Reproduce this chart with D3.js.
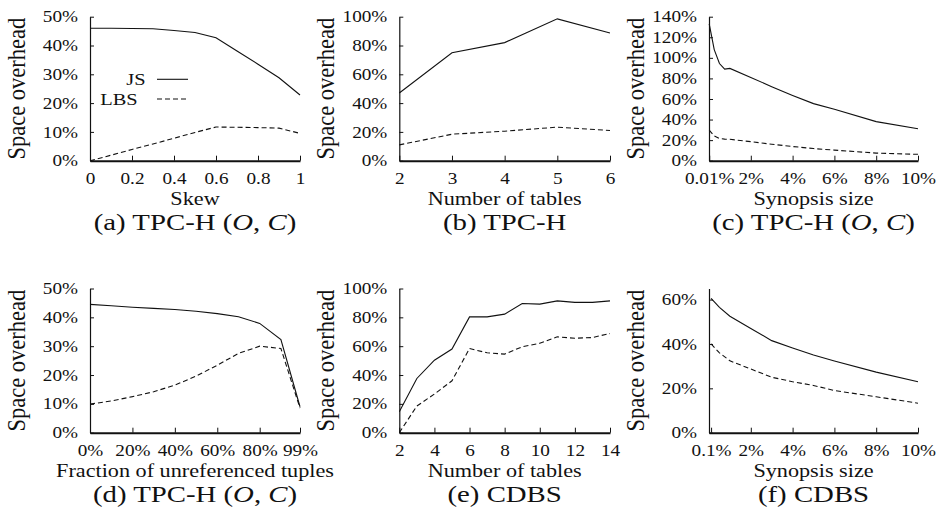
<!DOCTYPE html>
<html>
<head>
<meta charset="utf-8">
<script src="https://cdn.jsdelivr.net/npm/d3@7"></script>
<style>
  body { margin: 0; background: #fff; }
  svg text { font-family: "Liberation Serif", "Times New Roman", Times, "DejaVu Serif", serif; fill: #111; }
  .axis path, .axis line { stroke: #111; }
  .series { fill: none; stroke: #111; stroke-width: 1.1; }
  .dashed { stroke-dasharray: 5,3; }
</style>
</head>
<body>
<svg id="chart" width="940" height="510"></svg>
<script>

// ---- data ----------------------------------------------------------------------

// (a) TPC-H (O, C) : skew
const skew      = [0, 0.1, 0.2, 0.3, 0.4, 0.5, 0.6, 0.7, 0.8, 0.9, 1.0];
const skewJS    = [46, 46, 45.9, 45.8, 45.2, 44.5, 42.7, 38.1, 33.5, 28.8, 22.8];
const skewLBS   = [0, 1.9, 3.9, 5.8, 7.8, 9.8, 11.7, 11.6, 11.5, 11.3, 9.5];

// (b) TPC-H : number of tables
const tablesH    = [2, 3, 4, 5, 6];
const tablesHJS  = [47, 75, 82, 98.5, 88.7];
const tablesHLBS = [11, 18.4, 20.5, 23.3, 21];

// (c) TPC-H (O, C) : synopsis size (%)
const synH    = [0.01, 0.25, 0.5, 0.75, 1, 2, 3, 4, 5, 6, 8, 10];
const synHJS  = [133, 108, 94.5, 89, 89.7, 81, 72, 63.5, 55.5, 50, 38, 31];
const synHLBS = [29.8, 24, 21.5, 21, 20.8, 18.5, 16, 13.8, 11.8, 10.3, 7.4, 6.2];

// (d) TPC-H (O, C) : fraction of unreferenced tuples (%)
const unref    = [0, 10, 20, 30, 40, 50, 60, 70, 80, 90, 99];
const unrefJS  = [44.5, 44, 43.5, 43.1, 42.7, 42.1, 41.3, 40.2, 37.9, 32.3, 9];
const unrefLBS = [9.9, 11, 12.5, 14.2, 16.5, 19.6, 23.4, 27.5, 30, 29.2, 8.5];

// (e) CDBS : number of tables
const tablesC    = [2, 3, 4, 5, 6, 7, 8, 9, 10, 11, 12, 13, 14];
const tablesCJS  = [14.5, 37.6, 50.3, 58, 80.3, 80.3, 82.2, 89.6, 89.2, 91.4, 90.4, 90.4, 91.4];
const tablesCLBS = [0, 18.5, 26.8, 36, 58.4, 55.4, 54.5, 59.6, 62, 66.5, 65.5, 66, 68.8];

// (f) CDBS : synopsis size (%)
const synC    = [0.1, 0.5, 1, 2, 3, 4, 5, 6, 8, 10];
const synCJS  = [60.5, 56.5, 52.5, 47, 41.5, 38.2, 35, 32.3, 27.3, 23];
const synCLBS = [40, 36, 32.4, 28.7, 25, 23, 21.3, 19, 16.2, 13.3];

// tick values
const skewTicks   = [0, 0.2, 0.4, 0.6, 0.8, 1];
const synHTicks   = [0.01, 2, 4, 6, 8, 10];
const synCTicks   = [0.1, 2, 4, 6, 8, 10];
const unrefTicks  = [0, 20, 40, 60, 80, 99];
const tablesCTicks = [2, 4, 6, 8, 10, 12, 14];

const seriesNames = ['JS', 'LBS'];

//-------------------------------------------------------------------------------

const SX = 1.2;   // the source figure is stretched sideways; text follows it
const svg = d3.select('#chart');
const pct = d => d + '%';

const cols = [ [90, 300], [399.3, 610], [709, 918] ];
const rows = [ [160.7, 16.7], [432.7, 288.5] ];

const panels = [
  { col: 0, row: 0, x: skew, js: skewJS, lbs: skewLBS, xdom: [0, 1], ydom: [0, 50], ystep: 10,
    xticks: skewTicks, xfmt: d => d, xlabel: 'Skew', cap: ['(a) TPC-H (', 'O', ', ', 'C', ')'], legend: true },
  { col: 1, row: 0, x: tablesH, js: tablesHJS, lbs: tablesHLBS, xdom: [2, 6], ydom: [0, 100], ystep: 20,
    xticks: tablesH, xfmt: d => d, xlabel: 'Number of tables', cap: ['(b) TPC-H'] },
  { col: 2, row: 0, x: synH, js: synHJS, lbs: synHLBS, xdom: [0, 10], ydom: [0, 140], ystep: 20,
    xticks: synHTicks, xfmt: pct, xlabel: 'Synopsis size', cap: ['(c) TPC-H (', 'O', ', ', 'C', ')'] },
  { col: 0, row: 1, x: unref, js: unrefJS, lbs: unrefLBS, xdom: [0, 99], ydom: [0, 50], ystep: 10,
    xticks: unrefTicks, xfmt: pct, xlabel: 'Fraction of unreferenced tuples', cap: ['(d) TPC-H (', 'O', ', ', 'C', ')'] },
  { col: 1, row: 1, x: tablesC, js: tablesCJS, lbs: tablesCLBS, xdom: [2, 14], ydom: [0, 100], ystep: 20,
    xticks: tablesCTicks, xfmt: d => d, xlabel: 'Number of tables', cap: ['(e) CDBS'] },
  { col: 2, row: 1, x: synC, js: synCJS, lbs: synCLBS, xdom: [0, 10], ydom: [0, 65], ystep: 20,
    xticks: synCTicks, xfmt: pct, xlabel: 'Synopsis size', cap: ['(f) CDBS'] },
];

//-------------------------------------------------------------------------------

function StretchedText(g, x, y, size) {
    return g.append('text')
        .attr('transform', `translate(${x},${y}) scale(${SX},1)`)
        .attr('text-anchor', 'middle')
        .style('font-size', size + 'px');
}

function DrawPanel(p) {
    const [x0, x1] = cols[p.col], [y0, y1] = rows[p.row];
    const g = svg.append('g');

    const x = d3.scaleLinear().domain(p.xdom).range([x0, x1]);
    const y = d3.scaleLinear().domain(p.ydom).range([y0, y1]);

    const yticks = d3.range(p.ydom[0], p.ydom[1] + 0.001, p.ystep);

    // left axis, ticks pointing inward
    const ga = g.append('g').attr('class', 'axis')
        .attr('transform', `translate(${x0},0)`)
        .call(d3.axisLeft(y).tickValues(yticks).tickFormat(pct).tickSize(-4).tickSizeOuter(0).tickPadding(12));
    ga.attr('font-family', null).attr('font-size', null);
    ga.select('.domain').attr('stroke-width', 1.2);
    ga.selectAll('.tick text')
        .attr('x', -12 / SX)
        .attr('transform', `scale(${SX},1)`)
        .style('font-size', '16px');

    // bottom axis
    const gb = g.append('g').attr('class', 'axis')
        .attr('transform', `translate(0,${y0})`)
        .call(d3.axisBottom(x).tickValues(p.xticks).tickFormat(p.xfmt).tickSize(-5).tickSizeOuter(0).tickPadding(12));
    gb.attr('font-family', null).attr('font-size', null);
    gb.select('.domain').attr('stroke-width', 2);
    gb.selectAll('.tick text')
        .attr('transform', `scale(${SX},1)`)
        .style('font-size', '16px');

    // series
    const line = d3.line().x(d => x(d[0])).y(d => y(d[1]));
    g.append('path').attr('class', 'series')
        .attr('d', line(d3.zip(p.x, p.js)));
    g.append('path').attr('class', 'series dashed')
        .attr('d', line(d3.zip(p.x, p.lbs)));

    // axis titles
    g.append('text')
        .attr('transform', `translate(${x0 - 65},${(y0 + y1) / 2}) scale(1.1,1) rotate(-90)`)
        .attr('text-anchor', 'middle')
        .style('font-size', '22.5px')
        .text('Space overhead');

    const cx = (x0 + x1) / 2;
    StretchedText(g, cx, y0 + 44.3, 18.5).text(p.xlabel);

    const cap = StretchedText(g, cx, y0 + 69.5, 24);
    p.cap.forEach((s, i) => cap.append('tspan')
        .style('font-style', i % 2 ? 'italic' : 'normal')
        .text(s));

    if (p.legend) {
        const ly = [79.3, 99];
        seriesNames.forEach((name, i) => {
            StretchedText(g, i ? 137.7 : 145.5, ly[i] + 5.5, 17)
                .attr('text-anchor', 'end').text(name);
            g.append('line')
                .attr('class', 'series' + (i ? ' dashed' : ''))
                .attr('x1', 157).attr('x2', 188)
                .attr('y1', ly[i]).attr('y2', ly[i]);
        });
    }
}

panels.forEach(DrawPanel);

</script>
</body>
</html>
